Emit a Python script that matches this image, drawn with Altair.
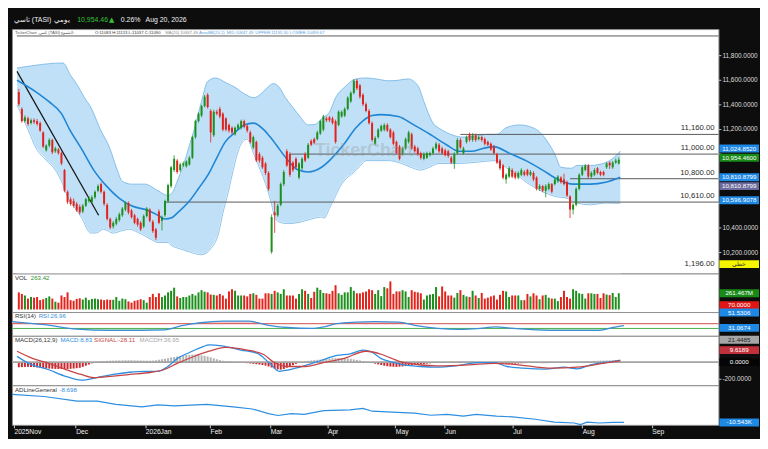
import altair as alt
import pandas as pd

FONT = "Liberation Sans"
W = 714
H_HEAD, H_PRICE, H_VOL, H_RSI, H_MACD, H_ADL = 19, 247, 39, 24, 50, 40
BOX_X = W + 21
BOX_SHAPE = "M-1,-0.2H1V0.2H-1Z"
GREEN, RED = "#1d8f1d", "#e2231c"
X_DOMAIN = [-0.63, 228.1]
PRICE_DOMAIN = [10030, 12016]

# ---------------- header / info texts ----------------
HEADER_NAME = "تاسي (TASI)"
HEADER_PERIOD = "يومي"
HEADER_LAST = "10,954.46"
HEADER_CHG = "0.26%"
HEADER_DATE = "Aug 20, 2026"
INFO_PIECES = ["TickerChart ,تاسي (TASI) الشموع:", "O:11083 H:11113 L:11037 C:11090",
               "MA(20)", "10847.49", "AreaBB(20,2)", "MID:10847.49", "UPPER:11195.30", "LOWER:10499.67"]

# ---------------- daily candles (index = trading day) ----------------
opens = [
11504, 11367, 11268, 11290, 11252, 11275, 11268, 11252, 11176, 11031,
11069, 11115, 11023, 11038, 11008, 10870, 10694, 10633, 10618, 10595,
10572, 10534, 10580, 10618, 10610, 10649, 10702, 10756, 10694, 10588,
10473, 10412, 10435, 10465, 10503, 10549, 10603, 10542, 10503, 10473,
10442, 10412, 10496, 10549, 10450, 10389, 10534, 10458, 10503, 10618,
10740, 10870, 10947, 10870, 10908, 10901, 10916, 10970, 11138, 11268,
11313, 11390, 11481, 11351, 11153, 11344, 11367, 11329, 11290, 11237,
11214, 11161, 11206, 11214, 11268, 11229, 11176, 11054, 11099, 11000,
10970, 10924, 10847, 10205, 10526, 10503, 10588, 10756, 11023, 11000,
10931, 10962, 10809, 10885, 11000, 10970, 11107, 11122, 11122, 11168,
11199, 11290, 11298, 11290, 11268, 11237, 11306, 11313, 11367, 11428,
11497, 11596, 11558, 11481, 11405, 11351, 11252, 11084, 11138, 11191,
11199, 11237, 11199, 11176, 11099, 11061, 11000, 11046, 11099, 11161,
11061, 11046, 11008, 10962, 10970, 10992, 11008, 11046, 11076, 11046,
11031, 11023, 10970, 10924, 11008, 11115, 11008, 11099, 11161, 11115,
11153, 11122, 11138, 11122, 11099, 11084, 11061, 11000, 10947, 10908,
10794, 10817, 10870, 10847, 10809, 10832, 10855, 10870, 10832, 10847,
10809, 10717, 10740, 10702, 10717, 10756, 10756, 10779, 10809, 10794,
10771, 10656, 10549, 10588, 10717, 10832, 10870, 10908, 10817, 10832,
10885, 10855, 10855, 10893, 10931, 10893, 10931, 10924,
]
closes = [
11405, 11268, 11298, 11245, 11275, 11260, 11245, 11191, 11061, 11069,
11115, 11015, 11046, 11008, 10924, 10702, 10610, 10595, 10580, 10542,
10526, 10580, 10633, 10641, 10649, 10694, 10740, 10694, 10595, 10473,
10404, 10442, 10473, 10511, 10557, 10603, 10526, 10488, 10442, 10427,
10389, 10496, 10557, 10458, 10374, 10320, 10442, 10488, 10618, 10748,
10893, 10962, 10855, 10916, 10924, 10939, 10970, 11138, 11268, 11329,
11390, 11466, 11382, 11176, 11344, 11329, 11306, 11199, 11199, 11191,
11176, 11214, 11237, 11268, 11222, 11191, 11099, 11138, 10947, 10947,
10893, 10847, 10717, 10488, 10503, 10580, 10756, 10855, 10908, 10832,
10870, 10893, 10924, 10962, 10947, 11076, 11076, 11092, 11176, 11268,
11306, 11275, 11275, 11252, 11099, 11344, 11344, 11367, 11458, 11497,
11596, 11535, 11466, 11405, 11351, 11252, 11115, 11130, 11199, 11229,
11237, 11191, 11138, 11084, 11008, 10962, 11046, 11122, 11176, 11046,
11023, 11000, 10970, 11000, 11008, 11008, 11046, 11084, 11023, 11008,
10992, 10985, 10931, 11000, 11115, 11054, 11046, 11138, 11115, 11153,
11115, 11138, 11115, 11084, 11076, 11038, 11008, 10931, 10885, 10809,
10832, 10885, 10817, 10809, 10847, 10870, 10832, 10832, 10855, 10794,
10717, 10740, 10702, 10740, 10756, 10694, 10794, 10817, 10771, 10756,
10664, 10549, 10588, 10717, 10832, 10893, 10908, 10817, 10847, 10870,
10847, 10832, 10832, 10924, 10908, 10931, 10947, 10954,
]
highs = [
11530, 11380, 11315, 11305, 11290, 11290, 11285, 11265, 11185, 11080,
11130, 11125, 11060, 11050, 11020, 10880, 10705, 10650, 10640, 10610,
10590, 10595, 10645, 10660, 10665, 10705, 10755, 10770, 10705, 10600,
10485, 10455, 10490, 10525, 10570, 10615, 10615, 10555, 10515, 10485,
10455, 10510, 10570, 10560, 10465, 10400, 10550, 10500, 10630, 10760,
10905, 10990, 10960, 10930, 10940, 10950, 10985, 11150, 11280, 11340,
11400, 11480, 11495, 11365, 11360, 11360, 11385, 11340, 11300, 11250,
11225, 11225, 11250, 11280, 11280, 11240, 11190, 11150, 11110, 11015,
10985, 10935, 10860, 10510, 10620, 10595, 10770, 10870, 11040, 11015,
10945, 10975, 10935, 10975, 11015, 11090, 11120, 11135, 11190, 11280,
11320, 11305, 11310, 11305, 11280, 11355, 11355, 11380, 11470, 11510,
11610, 11610, 11570, 11495, 11420, 11365, 11265, 11145, 11210, 11240,
11250, 11250, 11210, 11190, 11110, 11075, 11060, 11135, 11190, 11175,
11075, 11060, 11020, 11015, 11020, 11020, 11060, 11100, 11090, 11060,
11045, 11035, 10985, 11015, 11130, 11130, 11060, 11150, 11175, 11170,
11165, 11150, 11150, 11135, 11110, 11095, 11075, 11010, 10960, 10920,
10845, 10900, 10885, 10860, 10860, 10885, 10870, 10880, 10870, 10860,
10820, 10755, 10750, 10755, 10770, 10765, 10805, 10830, 10820, 10840,
10785, 10665, 10600, 10730, 10845, 10905, 10920, 10920, 10860, 10885,
10895, 10865, 10865, 10935, 10940, 10945, 10965, 10975,
]
lows = [
11390, 11255, 11255, 11230, 11240, 11245, 11230, 11180, 11050, 11020,
11055, 11000, 11010, 10995, 10910, 10690, 10595, 10580, 10565, 10530,
10510, 10520, 10570, 10605, 10595, 10635, 10690, 10680, 10580, 10460,
10390, 10395, 10420, 10450, 10490, 10535, 10510, 10475, 10430, 10410,
10375, 10400, 10485, 10445, 10360, 10300, 10430, 10380, 10490, 10605,
10725, 10855, 10840, 10855, 10895, 10890, 10905, 10960, 11125, 11255,
11300, 11380, 11370, 11095, 11140, 11315, 11290, 11185, 11185, 11175,
11160, 11150, 11195, 11200, 11210, 11175, 11085, 11040, 10935, 10930,
10880, 10830, 10700, 10190, 10360, 10490, 10575, 10740, 10895, 10815,
10855, 10880, 10795, 10870, 10935, 10960, 11065, 11080, 11110, 11155,
11185, 11260, 11260, 11240, 11085, 11225, 11295, 11300, 11355, 11415,
11485, 11520, 11450, 11390, 11340, 11240, 11100, 11070, 11125, 11180,
11185, 11180, 11125, 11070, 10995, 10950, 10990, 11035, 11085, 11035,
11010, 10985, 10955, 10950, 10960, 10980, 10995, 11035, 11010, 10995,
10980, 10970, 10920, 10880, 10995, 11040, 10995, 11085, 11100, 11100,
11100, 11110, 11100, 11070, 11065, 11025, 10995, 10920, 10870, 10795,
10760, 10805, 10805, 10795, 10795, 10820, 10820, 10820, 10820, 10780,
10705, 10700, 10690, 10650, 10705, 10680, 10745, 10765, 10760, 10745,
10650, 10480, 10510, 10575, 10705, 10820, 10860, 10805, 10805, 10820,
10835, 10820, 10820, 10880, 10880, 10880, 10920, 10915,
]
volumes_m = [
275, 250, 225, 175, 200, 190, 200, 150, 165, 185,
210, 175, 125, 110, 225, 200, 275, 150, 140, 170,
180, 160, 190, 150, 170, 175, 165, 160, 150, 160,
155, 155, 200, 140, 175, 165, 130, 110, 140, 150,
165, 150, 110, 200, 250, 200, 260, 200, 225, 275,
300, 350, 210, 185, 200, 200, 225, 250, 225, 275,
310, 285, 275, 240, 235, 225, 250, 225, 175, 290,
325, 300, 225, 225, 225, 210, 250, 260, 235, 175,
175, 260, 260, 250, 300, 275, 250, 325, 225, 225,
225, 175, 250, 325, 300, 250, 185, 285, 350, 315,
265, 260, 250, 300, 390, 260, 235, 275, 275, 360,
300, 260, 260, 275, 290, 325, 310, 250, 310, 215,
360, 340, 450, 250, 290, 290, 310, 290, 200, 310,
285, 275, 260, 160, 225, 240, 250, 360, 210, 370,
290, 225, 225, 190, 265, 310, 235, 210, 200, 300,
225, 185, 265, 175, 190, 210, 225, 160, 235, 300,
290, 200, 225, 225, 225, 150, 150, 250, 210, 260,
225, 165, 225, 235, 190, 175, 175, 135, 200, 300,
200, 175, 325, 300, 260, 250, 175, 260, 260, 250,
250, 185, 260, 240, 230, 265, 200, 261,
]
macd_hist = [
-60, -58, -56, -55, -56, -58, -62, -66, -70, -73,
-75, -77, -79, -80, -81, -81, -80, -78, -75, -71,
-66, -55, -42, -28, -14, 2, 6, 10, 13, 15,
17, 18, 19, 20, 21, 22, 22, 22, 21, 20,
19, 18, 17, 17, 18, 22, 28, 34, 40, 47,
55, 60, 66, 72, 78, 83, 86, 88, 88, 85,
80, 74, 66, 56, 45, 34, 24, 16, 12, 9,
6, 3, 1, -4, -8, -12, -16, -20, -24, -28,
-33, -40, -50, -62, -75, -85, -88, -80, -65, -50,
-35, -20, -8, 2, 11, 16, 20, 24, 27, 30,
34, 38, 42, 45, 47, 48, 48, 46, 43, 38,
32, 26, 20, 12, 5, -2, -10, -18, -26, -34,
-42, -48, -52, -54, -55, -53, -50, -46, -42, -38,
-34, -30, -26, -22, -18, -14, -10, -7, -4, -2,
0, 3, 5, 7, 9, 10, 10, 10, 9, 8,
6, 2, -2, -5, -8, -11, -14, -16, -18, -19,
-20, -20, -19, -18, -16, -14, -12, -11, -10, -10,
-10, -11, -12, -12, -11, -10, -9, -8, -6, -4,
-2, -1, 1, 3, 5, 7, 9, 11, 13, 15,
16, 18, 19, 20, 21, 21, 22, 21,
]

# ---------------- indicator lines (read at turning points) ----------------
upper_i = [-0.6, 5, 10, 14.5, 17, 19.3, 21.5, 23.6, 26.8, 29.9, 32, 34, 37, 41.4, 45.7, 48.9, 50.5, 52, 54, 56,
           58, 60, 62, 64.6, 68, 71, 74, 77.3, 79.5, 81.4, 83.6, 85.5, 87.5, 89.9, 92.5, 95, 97, 100, 102, 104,
           107, 110.7, 113.9, 117.5, 121.4, 124.5, 127.8, 131, 133, 134.5, 136, 138, 140.4, 143, 145.5, 150.8,
           154, 157, 160, 164.4, 168.8, 171, 173, 176, 178, 181.4, 183.3, 187.7, 192.7, 195.5, 197.5]
upper_v = [11700, 11720, 11735, 11740, 11640, 11558, 11460, 11382, 11199, 11046, 10893, 10779, 10756, 10756,
           10702, 10664, 10690, 10780, 10908, 11070, 11237, 11430, 11590, 11619, 11580, 11543, 11490, 11458,
           11490, 11535, 11573, 11543, 11460, 11382, 11300, 11237, 11240, 11300, 11340, 11458, 11545, 11611,
           11619, 11610, 11596, 11600, 11611, 11558, 11428, 11330, 11252, 11210, 11176, 11150, 11138, 11150,
           11161, 11161, 11214, 11237, 11214, 11180, 11122, 11000, 10893, 10885, 10908, 10908, 10931, 10975, 11025]
lower_i = [-0.6, 3, 5.7, 9, 12, 14, 16.2, 18.5, 20.5, 23.6, 25.5, 27.8, 31, 33.5, 36.3, 39, 41.4, 43.5, 45.7,
           48.9, 50, 53, 56, 60, 63, 65.6, 67, 68.8, 70.5, 72, 73.5, 75, 77, 79.3, 81, 82.5, 84.5, 86.5, 88.6,
           92, 95, 99.4, 100.3, 102, 104, 105.6, 107.5, 109.8, 112, 114, 117, 121.4, 125.6, 128.5, 131.9, 135,
           138, 144.5, 150.8, 156, 158.5, 161.2, 164, 166.6, 169, 172, 176, 180, 183.3, 187.7, 192.7, 197.5]
lower_v = [11400, 11200, 11046, 10950, 10870, 10780, 10641, 10560, 10488, 10358, 10360, 10389, 10358, 10375,
           10389, 10365, 10335, 10305, 10282, 10282, 10259, 10230, 10205, 10182, 10230, 10358, 10520, 10694,
           10880, 11023, 11100, 11122, 11010, 10870, 10760, 10641, 10465, 10440, 10435, 10445, 10465, 10488,
           10480, 10560, 10660, 10740, 10800, 10847, 10900, 10947, 10947, 10947, 10924, 10895, 10870, 10895,
           10924, 10924, 10935, 10947, 10915, 10870, 10820, 10771, 10735, 10694, 10656, 10641, 10603, 10588,
           10603, 10600]
ma_i = [-0.6, 5.7, 9.8, 14, 16.7, 20.5, 24.6, 28.8, 33, 37, 42.5, 45.7, 48, 50, 52, 56, 59, 62.5, 65, 67.8, 71,
        74, 77, 80.4, 82.5, 84.5, 87.7, 91.8, 95, 99.4, 102, 104, 106.6, 110.7, 113, 116, 119, 124.6, 129.7, 135,
        140.4, 144.5, 148.6, 152.4, 156, 161, 166.5, 172, 177, 182, 187.7, 192.7, 197.5]
ma_v = [11600, 11504, 11428, 11329, 11199, 11046, 10870, 10740, 10641, 10580, 10542, 10503, 10473, 10480, 10520,
        10618, 10720, 10847, 10970, 11099, 11176, 11237, 11252, 11199, 11140, 11076, 10970, 10870, 10855, 10893,
        10947, 11000, 11076, 11214, 11270, 11313, 11321, 11306, 11237, 11161, 11076, 11023, 11023, 11046, 11061,
        11008, 10947, 10870, 10794, 10756, 10756, 10771, 10811]
trend_i = [-0.6, 26.2]
trend_v = [11672, 10503]
level_values = [11960, 11160, 11000, 10800, 10610]
level_starts = [-0.63, 145, 89, 181, 48]
LEVEL_TOP_LABEL = "1,196.00"

rsi_i = [-0.6, 9.8, 20.5, 31, 41.4, 48.8, 54, 60.3, 67.8, 76, 82.4, 88.7, 96.2, 100.3, 104.5, 110.7, 117, 124.6,
         129.7, 137.2, 144.5, 150, 156, 161, 166.6, 175, 189.6, 194, 197.5]
rsi_v = [88, 62, 24, 14, 14, 18, 51, 78, 91, 91, 56, 38, 30, 43, 70, 83, 88, 83, 56, 30, 22, 28, 43, 32, 22, 14,
         14, 38, 54]
macd_i = [-0.6, 3.2, 9.8, 15.1, 20.5, 25.6, 31, 36.3, 41.4, 45.7, 48.9, 52, 56.2, 60.3, 62.5, 66.6, 72.9, 78.2,
          82.4, 85.5, 88.7, 94, 99.4, 104.5, 108.8, 113, 116, 119, 122.4, 126.5, 131.9, 137.2, 143.5, 150.8, 156.2,
          160.3, 165.6, 172.9, 179.2, 183.3, 187.7, 194, 197.5]
macd_v = [67, -14, -89, -162, -211, -181, -144, -118, -107, -107, -51, 41, 115, 178, 200, 189, 141, 104, -14,
          -107, -89, -40, 22, 78, 97, 141, 115, 41, 4, -33, -51, -59, -44, -7, -7, -51, -70, -81, -59, -78, -33,
          4, 22]
sig_i = [-0.6, 4.7, 9.8, 15.1, 20.5, 24.6, 31, 36.3, 43.5, 47.6, 52, 57.1, 62.5, 67.8, 75, 80.4, 83.5, 87.7, 94,
         100.3, 106.6, 114, 119.2, 122, 126.5, 137.2, 147.6, 156.2, 162.5, 175, 183.3, 191.8, 197.5]
sig_v = [127, 41, -14, -81, -144, -181, -162, -144, -118, -89, -14, 60, 127, 171, 141, 89, 4, -51, -51, -3, 41,
         127, 89, 50, -7, -44, -33, -14, -25, -70, -59, -14, 16]
adl_i = [-0.6, 9.8, 20.5, 27, 33, 41.4, 46.6, 52, 62.5, 71, 77.2, 82.4, 85.5, 89.8, 94, 100.3, 108.8, 113, 116,
         122.4, 129.7, 135, 140.2, 145.5, 149.7, 156.2, 161.4, 168.8, 175, 181.4, 183.4, 185.6, 189.6, 194, 197.5]
adl_v = [-7.543, -7.773, -8.273, -8.273, -8.603, -8.873, -8.673, -8.773, -8.603, -8.873, -9.103, -9.603, -9.803,
         -9.603, -9.673, -9.273, -9.203, -9.043, -9.343, -9.443, -9.543, -9.773, -9.673, -9.873, -9.673, -9.873,
         -9.943, -10.203, -10.503, -10.603, -10.773, -10.503, -10.603, -10.543, -10.543]

# ---------------- axis ticks and right-hand value labels ----------------
price_ticks = [10200, 10400, 10600, 10800, 11000, 11200, 11400, 11600, 11800]
price_tick_labels_hidden = [10600, 10800, 11000]   # covered by the value boxes in the original
macd_ticks = [-200]
month_pos = [0, 20, 42.5, 63.5, 83, 101.5, 123.5, 139.5, 161.5, 184, 206.5]
month_lab = ["2025Nov", "Dec", "2026Jan", "Feb", "Mar", "Apr", "May", "Jun", "Jul", "Aug", "Sep"]
price_marks = [11024.852, 10954.46, 10810.8799, 10810.8799, 10596.9078]
vol_last = 261.467
rsi_marks = [70.0, 51.5306, 31.0674]
macd_marks = [21.4485, 9.6189, 0.0]
adl_last_k = -10.543
panel_titles = {"vol": ("VOL", "263.42"), "rsi": ("RSI(14)", "RSI:26.96"),
                "macd": ("MACD(26,12,9)", "MACD:8.83", "SIGNAL:-28.11", "MACDH:36.95"),
                "adl": ("ADLineGeneral", "-8.698")}

# =====================================================================
ONE = pd.DataFrame({"k": [0]})
bars = pd.DataFrame({"i": list(range(len(closes))), "open": opens, "high": highs, "low": lows,
                     "close": closes, "vol": volumes_m, "hist": macd_hist})


def series(idx, vals):
    return pd.DataFrame({"i": idx, "v": vals})


xs = alt.Scale(domain=X_DOMAIN, nice=False, zero=False)
X = alt.X("i:Q", scale=xs, axis=None)
ps = alt.Scale(domain=PRICE_DOMAIN, nice=False, zero=False)
vs = alt.Scale(domain=[-41, 578], nice=False, zero=False)
rs = alt.Scale(domain=[-32, 168], nice=False, zero=False)
ms = alt.Scale(domain=[-270, 307], nice=False, zero=False)
ads = alt.Scale(domain=[-10.8, -6.573], nice=False, zero=False)


def ydat(v, sc):
    return alt.YDatum(v, type="quantitative", scale=sc, axis=None)


def yenc(y):
    return alt.value(y) if isinstance(y, (int, float)) else y


def text(t, x, y, color, size=6.2, align="left", font=FONT, **kw):
    return alt.Chart(ONE).mark_text(text=t, align=align, baseline="middle", font=font, fontSize=size,
                                    color=color, **kw).encode(x=alt.value(x), y=yenc(y))


def box(t, fill, tcolor, y):
    return [
        alt.Chart(ONE).mark_point(shape=BOX_SHAPE, size=1600, filled=True, opacity=1, color=fill,
                                  strokeWidth=0).encode(x=alt.value(BOX_X), y=yenc(y)),
        alt.Chart(ONE).mark_text(text=t, align="center", baseline="middle", font=FONT, fontSize=6.3,
                                 color=tcolor).encode(x=alt.value(BOX_X), y=yenc(y)),
    ]


def right_ticks(values, sc, hidden=()):
    df = pd.DataFrame({"v": values})
    lab = pd.DataFrame({"v": [v for v in values if v not in hidden]})
    lab["lab"] = [f"{v:,.4f}" for v in lab["v"]]
    return [
        alt.Chart(df).mark_rule(color="#bdbdbd", strokeWidth=1).encode(
            x=alt.value(W), x2=alt.value(W + 3), y=alt.Y("v:Q", scale=sc, axis=None)),
        alt.Chart(lab).mark_text(align="left", baseline="middle", font=FONT, fontSize=6.5,
                                 color="#dcdcdc").encode(
            x=alt.value(W + 4), y=alt.Y("v:Q", scale=sc, axis=None), text="lab:N"),
    ]


def f4(v):
    return f"{v:,.4f}"


# ---------------- header ----------------
header = alt.layer(
    text(HEADER_NAME, 2, 9.5, "#f0f0f0", size=7),
    text(HEADER_PERIOD, 42, 9.5, "#f0f0f0", size=7),
    text(HEADER_LAST, 66, 9.5, "#36c236", size=7),
    text("▲", 98, 9.5, "#36c236", size=7, font="DejaVu Sans"),
    text(HEADER_CHG, 110, 9.5, "#f0f0f0", size=7),
    text(HEADER_DATE, 135, 9.5, "#f0f0f0", size=7),
).properties(width=W, height=H_HEAD, view=alt.ViewBackground(fill="#0d0d0d", strokeWidth=0))

# ---------------- price panel ----------------


def PY(f):
    return alt.Y(f, scale=ps, axis=None)


up_df, lo_df, ma_df = series(upper_i, upper_v), series(lower_i, lower_v), series(ma_i, ma_v)
lv = pd.DataFrame({"v": level_values, "start": level_starts})
lv_lab = pd.DataFrame({"v": level_values[1:], "lab": [f"{v:,.2f}" for v in level_values[1:]]})
tl = pd.DataFrame({"i1": [trend_i[0]], "i2": [trend_i[1]], "v1": [trend_v[0]], "v2": [trend_v[1]]})

info_x = [3, 84, 155, 170, 189, 217, 246, 281]
info_c = ["#555555", "#333333", "#8a8a8a", "#8a8a8a", "#5aa0d8", "#5aa0d8", "#5aa0d8", "#5aa0d8"]

price_layers = [
    alt.Chart(up_df).mark_area(color="#bfe0f7", interpolate="monotone", clip=True).encode(
        x=X, y=PY("v:Q"), y2=alt.datum(PRICE_DOMAIN[0])),
    alt.Chart(lo_df).mark_area(color="white", stroke="white", strokeWidth=1.5, interpolate="monotone",
                               clip=True).encode(
        x=X, y=PY("v:Q"), y2=alt.datum(PRICE_DOMAIN[0])),
    alt.Chart(up_df).mark_line(color="#6fb3e4", strokeWidth=0.8, interpolate="monotone").encode(x=X, y=PY("v:Q")),
    alt.Chart(lo_df).mark_line(color="#6fb3e4", strokeWidth=0.8, interpolate="monotone").encode(x=X, y=PY("v:Q")),
    alt.Chart(lv).mark_rule(color="#5a5a5a", strokeWidth=1).encode(
        x=alt.X("start:Q", scale=xs, axis=None), x2=alt.value(W), y=PY("v:Q")),
    alt.Chart(tl).mark_rule(color="#1a1a1a", strokeWidth=1.3).encode(
        x=alt.X("i1:Q", scale=xs, axis=None), x2=alt.X2("i2:Q"), y=PY("v1:Q"), y2=alt.Y2("v2:Q")),
    alt.Chart(ma_df).mark_line(color="#1f86d6", strokeWidth=1.6, interpolate="monotone").encode(x=X, y=PY("v:Q")),
    alt.Chart(bars).transform_filter("datum.close >= datum.open").mark_rule(color=GREEN, strokeWidth=0.8).encode(
        x=X, y=PY("low:Q"), y2=alt.Y2("high:Q")),
    alt.Chart(bars).transform_filter("datum.close < datum.open").mark_rule(color=RED, strokeWidth=0.8).encode(
        x=X, y=PY("low:Q"), y2=alt.Y2("high:Q")),
    alt.Chart(bars).transform_filter("datum.close >= datum.open").mark_bar(size=2, color=GREEN).encode(
        x=X, y=PY("open:Q"), y2=alt.Y2("close:Q")),
    alt.Chart(bars).transform_filter("datum.close < datum.open").mark_bar(size=2, color=RED).encode(
        x=X, y=PY("open:Q"), y2=alt.Y2("close:Q")),
    text("TickerChart", 356, 123, "#9a9a9a", size=18, align="center", opacity=0.35, fontWeight="bold"),
    alt.Chart(lv_lab).mark_text(align="right", baseline="middle", dy=-6, fontSize=7.8, font=FONT,
                                color="#2a2a2a").encode(x=alt.value(W - 4), y=PY("v:Q"), text="lab:N"),
    text(LEVEL_TOP_LABEL, W - 4, ydat(10106, ps), "#2a2a2a", size=7.8, align="right"),
]
for t, x, c in zip(INFO_PIECES, info_x, info_c):
    price_layers.append(text(t, x, 4.3, c, size=4.3))
price_layers += right_ticks(price_ticks, ps, price_tick_labels_hidden)
price_box_pos = [11045, 10970, 10812, 10740, 10625]
price_box_fill = ["#1e88e5", "#178a17", "#1e88e5", "#6a6a9c", "#1e88e5"]
for v, p, fcol in zip(price_marks, price_box_pos, price_box_fill):
    price_layers += box(f4(v), fcol, "white", ydat(p, ps))
price_layers += box("خطي", "#f5f500", "#333333", ydat(10106, ps))
price = alt.layer(*price_layers).properties(width=W, height=H_PRICE)

# ---------------- volume panel ----------------
vol_layers = [
    alt.Chart(bars).transform_filter("datum.close >= datum.open").mark_bar(size=2, color=GREEN).encode(
        x=X, y=alt.Y("vol:Q", scale=vs, axis=None), y2=alt.datum(0)),
    alt.Chart(bars).transform_filter("datum.close < datum.open").mark_bar(size=2, color=RED).encode(
        x=X, y=alt.Y("vol:Q", scale=vs, axis=None), y2=alt.datum(0)),
    text(panel_titles["vol"][0], 3, 4.5, "#333333"),
    text(panel_titles["vol"][1], 19, 4.5, "#2f8f2f"),
] + box(f"{vol_last:.3f}M", "#178a17", "white", ydat(vol_last, vs))
vol = alt.layer(*vol_layers).properties(width=W, height=H_VOL)

# ---------------- RSI panel ----------------
rsi_df = series(rsi_i, rsi_v)
rsi_layers = [
    alt.Chart(rsi_df).transform_calculate(lo="min(datum.v, 30)").mark_area(
        color="#bfe6bf", interpolate="monotone", clip=True).encode(
        x=X, y=alt.Y("lo:Q", scale=rs, axis=None), y2=alt.datum(30)),
    alt.Chart(rsi_df).transform_calculate(hi="max(datum.v, 70)").mark_area(
        color="#f5c9c9", interpolate="monotone", clip=True).encode(
        x=X, y=alt.Y("hi:Q", scale=rs, axis=None), y2=alt.datum(70)),
    alt.Chart(ONE).mark_rule(color="#d24b4b", strokeWidth=1).encode(
        y=ydat(70, rs), x=alt.value(0), x2=alt.value(W)),
    alt.Chart(ONE).mark_rule(color="#4caf50", strokeWidth=1).encode(
        y=ydat(30, rs), x=alt.value(0), x2=alt.value(W)),
    alt.Chart(rsi_df).mark_line(color="#3b8fd6", strokeWidth=1.3, interpolate="monotone").encode(
        x=X, y=alt.Y("v:Q", scale=rs, axis=None)),
    text(panel_titles["rsi"][0], 3, 4.5, "#333333"),
    text(panel_titles["rsi"][1], 27, 4.5, "#3b8fd6"),
]
rsi_layers += box(f4(rsi_marks[0]), "#e01515", "white", -7)
rsi_layers += box(f4(rsi_marks[1]), "#1e88e5", "white", 0.5)
rsi_layers += box(f4(rsi_marks[2]), "#1e88e5", "white", 16)
rsi = alt.layer(*rsi_layers).properties(width=W, height=H_RSI)

# ---------------- MACD panel ----------------
macd_layers = [
    alt.Chart(bars).transform_filter("datum.hist >= 0").mark_bar(size=2, color="#b3b3b3").encode(
        x=X, y=alt.Y("hist:Q", scale=ms, axis=None), y2=alt.datum(0)),
    alt.Chart(bars).transform_filter("datum.hist < 0").mark_bar(size=2, color="#c8282e").encode(
        x=X, y=alt.Y("hist:Q", scale=ms, axis=None), y2=alt.datum(0)),
    alt.Chart(ONE).mark_rule(color="#a3a3a3", strokeWidth=2).encode(
        y=ydat(0, ms), x=alt.value(0), x2=alt.value(W)),
    alt.Chart(series(macd_i, macd_v)).mark_line(color="#2e8ee0", strokeWidth=1.3, interpolate="monotone").encode(
        x=X, y=alt.Y("v:Q", scale=ms, axis=None)),
    alt.Chart(series(sig_i, sig_v)).mark_line(color="#c84545", strokeWidth=1.3, interpolate="monotone").encode(
        x=X, y=alt.Y("v:Q", scale=ms, axis=None)),
    text(panel_titles["macd"][0], 3, 4.5, "#333333"),
    text(panel_titles["macd"][1], 49, 4.5, "#2e8ee0"),
    text(panel_titles["macd"][2], 83, 4.5, "#c84545"),
    text(panel_titles["macd"][3], 129, 4.5, "#a8a8a8"),
]
macd_layers += right_ticks(macd_ticks, ms)
macd_layers += box(f4(macd_marks[0]), "#a6a6a6", "#222222", 4)
macd_layers += box(f4(macd_marks[1]), "#c2313b", "white", 14.5)
macd_layers += box(f4(macd_marks[2]), "#050505", "white", ydat(0, ms))
macd = alt.layer(*macd_layers).properties(width=W, height=H_MACD)

# ---------------- A/D line panel ----------------
label_expr = ("[" + ",".join(f"'{m}'" for m in month_lab) + "][indexof([" +
              ",".join(str(p) for p in month_pos) + "], datum.value)]")
x_axis = alt.Axis(values=month_pos, labelExpr=label_expr, orient="bottom", title=None, labelColor="#eeeeee",
                  tickColor="#cccccc", tickSize=3, labelFontSize=6.8, labelFont=FONT, labelAlign="left",
                  labelPadding=1, domain=False, grid=False, labelOverlap=False, labelFlush=False)
adl_layers = [
    alt.Chart(series(adl_i, adl_v)).mark_line(color="#2e8ee0", strokeWidth=1.2).encode(
        x=alt.X("i:Q", scale=xs, axis=x_axis), y=alt.Y("v:Q", scale=ads, axis=None)),
    text(panel_titles["adl"][0], 3, 4.5, "#333333"),
    text(panel_titles["adl"][1], 48, 4.5, "#2e8ee0"),
] + box(f"{adl_last_k:.3f}K", "#1e88e5", "white", ydat(adl_last_k, ads))
adl = alt.layer(*adl_layers).properties(width=W, height=H_ADL)

chart = alt.vconcat(header, price, vol, rsi, macd, adl, spacing=0, bounds="flush").properties(
    background="#0d0d0d", padding=0
).configure_view(fill="white", stroke="#8f8f8f", strokeWidth=1)

chart.save("out.html", embed_options={"renderer": "svg", "actions": False})
